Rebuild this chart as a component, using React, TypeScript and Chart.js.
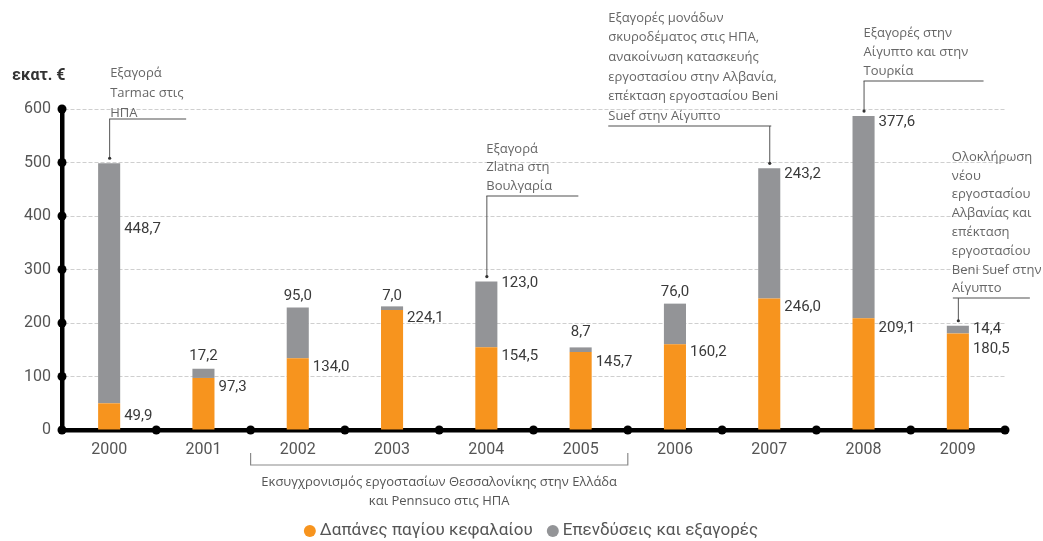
import React, { useEffect, useRef } from 'react';
import { Chart, registerables } from 'chart.js';

Chart.register(...registerables);

// ---- data ----
const years = ['2000', '2001', '2002', '2003', '2004', '2005', '2006', '2007', '2008', '2009'];
const capex = [49.9, 97.3, 134.0, 224.1, 154.5, 145.7, 160.2, 246.0, 209.1, 180.5];
const acquisitions = [448.7, 17.2, 95.0, 7.0, 123.0, 8.7, 76.0, 243.2, 377.6, 14.4];
const yTickValues = [0, 100, 200, 300, 400, 500, 600];
const seriesNames = ['Δαπάνες παγίου κεφαλαίου', 'Επενδύσεις και εξαγορές'];
const unitLabel = 'εκατ. €';

// ---- label layout (offsets, not data) ----
const capexLabelDy = [13, 9, 9, 8, 9, 10, 8, 9, 10, 16];
const acqLabelMode = ['right', 'above', 'above', 'above', 'right', 'above', 'above', 'right', 'right', 'right'];
const acqLabelDy = [66, -12, -11, -10, 2, -15, -11, 6, 6, 4];

const annotations = [
  { index: 0, lines: ['Εξαγορά', 'Tarmac στις', 'ΗΠΑ'], dx: 1, y0: 73, lh: 20, elbowY: 119, h: [0, 77] },
  { index: 4, lines: ['Εξαγορά', 'Zlatna στη', 'Βουλγαρία'], dx: 0, y0: 149, lh: 18.5, elbowY: 196, h: [0, 92] },
  {
    index: 7,
    lines: ['Εξαγορές μονάδων', 'σκυροδέματος στις ΗΠΑ,', 'ανακοίνωση κατασκευής', 'εργοστασίου στην Αλβανία,', 'επέκταση εργοστασίου Beni', 'Suef στην Αίγυπτο'],
    dx: -161, y0: 18, lh: 19.6, elbowY: 126, h: [-161, 2],
  },
  { index: 8, lines: ['Εξαγορές στην', 'Αίγυπτο και στην', 'Τουρκία'], dx: 0, y0: 33, lh: 19, elbowY: 81, h: [0, 120] },
  {
    index: 9,
    lines: ['Ολοκλήρωση', 'νέου', 'εργοστασίου', 'Αλβανίας και', 'επέκταση', 'εργοστασίου', 'Beni Suef στην', 'Αίγυπτο'],
    dx: -6, y0: 157, lh: 18.8, elbowY: 298, h: [-5, 72],
  },
];

const bracket = { from: 2, to: 6, lines: ['Εκσυγχρονισμός εργοστασίων Θεσσαλονίκης στην Ελλάδα', 'και Pennsuco στις ΗΠΑ'] };

const ORANGE = '#F7941E';
const GREY = '#939497';
const FONT = 'Roboto, "Noto Sans", sans-serif';
const ANN_FONT = '"Open Sans", "Noto Sans", sans-serif';

const fmt = (v: number) => v.toFixed(1).replace('.', ',');

const overlayPlugin = {
  id: 'overlay',
  afterDraw(chart: any) {
    const ctx = chart.ctx as CanvasRenderingContext2D;
    const area = chart.chartArea;
    const ys = chart.scales.y;
    const metaC = chart.getDatasetMeta(0);
    const metaA = chart.getDatasetMeta(1);
    ctx.save();

    // axis dots
    ctx.fillStyle = '#000';
    yTickValues.forEach((v) => {
      ctx.beginPath();
      ctx.arc(area.left, ys.getPixelForValue(v), 4.5, 0, Math.PI * 2);
      ctx.fill();
    });
    const step = (area.right - area.left) / years.length;
    for (let i = 1; i <= years.length; i++) {
      ctx.beginPath();
      ctx.arc(area.left + step * i, area.bottom, 4.5, 0, Math.PI * 2);
      ctx.fill();
    }

    // unit label
    ctx.fillStyle = '#333';
    ctx.font = `bold 16px ${FONT}`;
    ctx.textAlign = 'left';
    ctx.textBaseline = 'middle';
    ctx.fillText(unitLabel, 12, 76);

    // value labels
    ctx.font = `15px ${FONT}`;
    ctx.fillStyle = '#3a3a3a';
    metaC.data.forEach((el: any, i: number) => {
      const right = el.x + el.width / 2;
      ctx.textAlign = 'left';
      ctx.fillText(fmt(capex[i]), right + 4, el.y + capexLabelDy[i]);
    });
    metaA.data.forEach((el: any, i: number) => {
      if (acqLabelMode[i] === 'right') {
        ctx.textAlign = 'left';
        ctx.fillText(fmt(acquisitions[i]), el.x + el.width / 2 + 4, el.y + acqLabelDy[i]);
      } else {
        ctx.textAlign = 'center';
        ctx.fillText(fmt(acquisitions[i]), el.x, el.y + acqLabelDy[i]);
      }
    });

    // annotations
    ctx.font = `13px ${ANN_FONT}`;
    ctx.textAlign = 'left';
    annotations.forEach((a) => {
      const el = metaA.data[a.index];
      const bx = el.x;
      ctx.fillStyle = '#666';
      a.lines.forEach((ln, k) => ctx.fillText(ln, bx + a.dx, a.y0 + k * a.lh));
      ctx.strokeStyle = '#8a8a8a';
      ctx.lineWidth = 1.5;
      ctx.beginPath();
      ctx.moveTo(bx + a.h[0], a.elbowY);
      ctx.lineTo(bx + a.h[1], a.elbowY);
      ctx.stroke();
      ctx.strokeStyle = '#555';
      ctx.lineWidth = 1;
      ctx.beginPath();
      ctx.moveTo(bx + 0.5, a.elbowY);
      ctx.lineTo(bx + 0.5, el.y - 5);
      ctx.stroke();
      ctx.fillStyle = '#333';
      ctx.beginPath();
      ctx.arc(bx + 0.5, el.y - 5, 1.6, 0, Math.PI * 2);
      ctx.fill();
    });

    // bracket
    const bx1 = area.left + step * bracket.from;
    const bx2 = area.left + step * bracket.to;
    ctx.strokeStyle = '#8a8a8a';
    ctx.lineWidth = 1.2;
    ctx.beginPath();
    ctx.moveTo(bx1, 453);
    ctx.lineTo(bx1, 465);
    ctx.lineTo(bx2, 465);
    ctx.lineTo(bx2, 453);
    ctx.stroke();
    ctx.fillStyle = '#555';
    ctx.textAlign = 'center';
    ctx.font = `13px ${ANN_FONT}`;
    bracket.lines.forEach((ln, k) => ctx.fillText(ln, (bx1 + bx2) / 2, 482 + k * 19));

    // legend
    ctx.font = `17px ${FONT}`;
    ctx.textAlign = 'left';
    const colors = [ORANGE, GREY];
    const widths = seriesNames.map((s) => ctx.measureText(s).width);
    const r = 6;
    const itemW = widths.map((w) => r * 2 + 4 + w);
    const gap = 14;
    const total = itemW[0] + itemW[1] + gap;
    let lx = 531 - total / 2;
    const ly = 531;
    seriesNames.forEach((s, k) => {
      ctx.fillStyle = colors[k];
      ctx.beginPath();
      ctx.arc(lx + r, ly, r, 0, Math.PI * 2);
      ctx.fill();
      ctx.fillStyle = '#555';
      ctx.fillText(s, lx + r * 2 + 4, ly);
      lx += itemW[k] + gap;
    });

    ctx.restore();
  },
};

export default function App() {
  const ref = useRef<HTMLCanvasElement | null>(null);
  useEffect(() => {
    if (!ref.current) return;
    const chart = new Chart(ref.current, {
      type: 'bar',
      data: {
        labels: years,
        datasets: [
          { label: seriesNames[0], data: capex, backgroundColor: ORANGE, borderWidth: 0, barPercentage: 0.234, categoryPercentage: 1 },
          { label: seriesNames[1], data: acquisitions, backgroundColor: GREY, borderWidth: 0, barPercentage: 0.234, categoryPercentage: 1 },
        ],
      },
      options: {
        responsive: false,
        animation: false,
        layout: { padding: { top: 109, right: 38, bottom: 0, left: 0 } },
        plugins: { legend: { display: false }, tooltip: { enabled: false } },
        scales: {
          x: {
            stacked: true,
            grid: { display: false, drawTicks: false },
            border: { display: true, color: '#000', width: 4.5 },
            ticks: { color: '#555', font: { family: FONT, size: 16 }, padding: 10 },
            afterFit: (s: any) => { s.height = 111; },
          },
          y: {
            stacked: true,
            min: 0,
            max: 600,
            ticks: { stepSize: 100, color: '#555', font: { family: FONT, size: 16 }, padding: 11 },
            grid: { color: '#cfcfcf', lineWidth: 1, drawTicks: false },
            border: { display: true, color: '#000', width: 4.5, dash: [4, 2] },
            afterFit: (s: any) => { s.width = 62; },
          },
        },
      },
      plugins: [overlayPlugin],
    });
    return () => chart.destroy();
  }, []);
  return (
    <div style={{ position: 'fixed', left: 0, top: 0, width: 1043, height: 541, background: '#fff' }}>
      <canvas ref={ref} width={1043} height={541} style={{ display: 'block' }} />
    </div>
  );
}
